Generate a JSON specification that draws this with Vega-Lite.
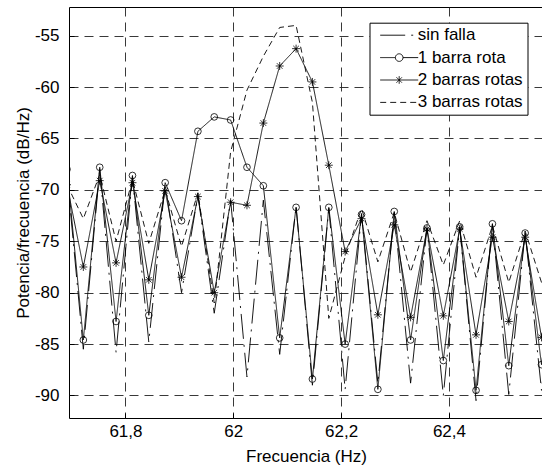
{
  "$schema": "https://vega.github.io/schema/vega-lite/v6.json",
  "width": 474,
  "height": 411,
  "autosize": {"type": "none"},
  "padding": {"left": 69, "top": 7, "right": 0, "bottom": 48},
  "background": "white",
  "config": {
    "view": {"stroke": "black", "strokeWidth": 1},
    "font": "Liberation Sans",
    "axis": {
      "domain": false,
      "ticks": true,
      "tickSize": -5,
      "tickColor": "black",
      "tickWidth": 1,
      "grid": true,
      "gridColor": "#222",
      "gridDash": [9, 6],
      "gridWidth": 0.9,
      "labelFont": "Liberation Sans",
      "labelFontSize": 17,
      "labelColor": "black",
      "titleFont": "Liberation Sans",
      "titleFontSize": 17,
      "titleFontWeight": "normal",
      "titleColor": "black"
    }
  },
  "data": {
    "values": [
      {"serie": "sin falla", "f": 61.6916, "db": -68.5},
      {"serie": "sin falla", "f": 61.7219, "db": -85.5},
      {"serie": "sin falla", "f": 61.7523, "db": -68.0},
      {"serie": "sin falla", "f": 61.7826, "db": -85.8},
      {"serie": "sin falla", "f": 61.8130, "db": -68.7},
      {"serie": "sin falla", "f": 61.8433, "db": -84.8},
      {"serie": "sin falla", "f": 61.8737, "db": -69.4},
      {"serie": "sin falla", "f": 61.9040, "db": -80.0},
      {"serie": "sin falla", "f": 61.9344, "db": -70.5},
      {"serie": "sin falla", "f": 61.9647, "db": -82.0},
      {"serie": "sin falla", "f": 61.9951, "db": -71.0},
      {"serie": "sin falla", "f": 62.0254, "db": -88.2},
      {"serie": "sin falla", "f": 62.0558, "db": -71.0},
      {"serie": "sin falla", "f": 62.0861, "db": -86.0},
      {"serie": "sin falla", "f": 62.1165, "db": -71.6},
      {"serie": "sin falla", "f": 62.1468, "db": -89.0},
      {"serie": "sin falla", "f": 62.1772, "db": -71.8},
      {"serie": "sin falla", "f": 62.2075, "db": -89.4},
      {"serie": "sin falla", "f": 62.2379, "db": -72.3},
      {"serie": "sin falla", "f": 62.2682, "db": -88.8},
      {"serie": "sin falla", "f": 62.2986, "db": -72.2},
      {"serie": "sin falla", "f": 62.3289, "db": -88.8},
      {"serie": "sin falla", "f": 62.3593, "db": -73.7},
      {"serie": "sin falla", "f": 62.3896, "db": -90.0},
      {"serie": "sin falla", "f": 62.4200, "db": -73.6},
      {"serie": "sin falla", "f": 62.4503, "db": -90.5},
      {"serie": "sin falla", "f": 62.4807, "db": -73.3},
      {"serie": "sin falla", "f": 62.5110, "db": -89.9},
      {"serie": "sin falla", "f": 62.5414, "db": -74.1},
      {"serie": "sin falla", "f": 62.5717, "db": -89.5},
      {"serie": "sin falla", "f": 62.6021, "db": -74.5},

      {"serie": "1 barra rota", "f": 61.6916, "db": -68.0},
      {"serie": "1 barra rota", "f": 61.7219, "db": -84.6},
      {"serie": "1 barra rota", "f": 61.7523, "db": -67.8},
      {"serie": "1 barra rota", "f": 61.7826, "db": -82.8},
      {"serie": "1 barra rota", "f": 61.8130, "db": -68.6},
      {"serie": "1 barra rota", "f": 61.8433, "db": -82.2},
      {"serie": "1 barra rota", "f": 61.8737, "db": -69.3},
      {"serie": "1 barra rota", "f": 61.9040, "db": -73.0},
      {"serie": "1 barra rota", "f": 61.9344, "db": -64.3},
      {"serie": "1 barra rota", "f": 61.9647, "db": -62.9},
      {"serie": "1 barra rota", "f": 61.9951, "db": -63.2},
      {"serie": "1 barra rota", "f": 62.0254, "db": -67.8},
      {"serie": "1 barra rota", "f": 62.0558, "db": -69.6},
      {"serie": "1 barra rota", "f": 62.0861, "db": -84.4},
      {"serie": "1 barra rota", "f": 62.1165, "db": -71.7},
      {"serie": "1 barra rota", "f": 62.1468, "db": -88.4},
      {"serie": "1 barra rota", "f": 62.1772, "db": -71.7},
      {"serie": "1 barra rota", "f": 62.2075, "db": -85.0},
      {"serie": "1 barra rota", "f": 62.2379, "db": -72.4},
      {"serie": "1 barra rota", "f": 62.2682, "db": -89.4},
      {"serie": "1 barra rota", "f": 62.2986, "db": -72.1},
      {"serie": "1 barra rota", "f": 62.3289, "db": -84.6},
      {"serie": "1 barra rota", "f": 62.3593, "db": -73.7},
      {"serie": "1 barra rota", "f": 62.3896, "db": -86.6},
      {"serie": "1 barra rota", "f": 62.4200, "db": -73.6},
      {"serie": "1 barra rota", "f": 62.4503, "db": -89.5},
      {"serie": "1 barra rota", "f": 62.4807, "db": -73.3},
      {"serie": "1 barra rota", "f": 62.5110, "db": -87.1},
      {"serie": "1 barra rota", "f": 62.5414, "db": -74.2},
      {"serie": "1 barra rota", "f": 62.5717, "db": -87.0},
      {"serie": "1 barra rota", "f": 62.6021, "db": -74.5},

      {"serie": "2 barras rotas", "f": 61.6916, "db": -69.5},
      {"serie": "2 barras rotas", "f": 61.7219, "db": -77.5},
      {"serie": "2 barras rotas", "f": 61.7523, "db": -69.1},
      {"serie": "2 barras rotas", "f": 61.7826, "db": -77.1},
      {"serie": "2 barras rotas", "f": 61.8130, "db": -69.3},
      {"serie": "2 barras rotas", "f": 61.8433, "db": -78.75},
      {"serie": "2 barras rotas", "f": 61.8737, "db": -70.1},
      {"serie": "2 barras rotas", "f": 61.9040, "db": -78.5},
      {"serie": "2 barras rotas", "f": 61.9344, "db": -70.65},
      {"serie": "2 barras rotas", "f": 61.9647, "db": -80.0},
      {"serie": "2 barras rotas", "f": 61.9951, "db": -71.2},
      {"serie": "2 barras rotas", "f": 62.0254, "db": -71.5},
      {"serie": "2 barras rotas", "f": 62.0558, "db": -63.5},
      {"serie": "2 barras rotas", "f": 62.0861, "db": -57.95},
      {"serie": "2 barras rotas", "f": 62.1165, "db": -56.26},
      {"serie": "2 barras rotas", "f": 62.1468, "db": -59.5},
      {"serie": "2 barras rotas", "f": 62.1772, "db": -67.6},
      {"serie": "2 barras rotas", "f": 62.2075, "db": -76.0},
      {"serie": "2 barras rotas", "f": 62.2379, "db": -72.8},
      {"serie": "2 barras rotas", "f": 62.2682, "db": -82.15},
      {"serie": "2 barras rotas", "f": 62.2986, "db": -73.4},
      {"serie": "2 barras rotas", "f": 62.3289, "db": -82.4},
      {"serie": "2 barras rotas", "f": 62.3593, "db": -73.8},
      {"serie": "2 barras rotas", "f": 62.3896, "db": -82.25},
      {"serie": "2 barras rotas", "f": 62.4200, "db": -73.8},
      {"serie": "2 barras rotas", "f": 62.4503, "db": -84.1},
      {"serie": "2 barras rotas", "f": 62.4807, "db": -74.6},
      {"serie": "2 barras rotas", "f": 62.5110, "db": -82.8},
      {"serie": "2 barras rotas", "f": 62.5414, "db": -74.6},
      {"serie": "2 barras rotas", "f": 62.5717, "db": -84.35},
      {"serie": "2 barras rotas", "f": 62.6021, "db": -75.0},

      {"serie": "3 barras rotas", "f": 61.6916, "db": -69.5},
      {"serie": "3 barras rotas", "f": 61.7219, "db": -72.8},
      {"serie": "3 barras rotas", "f": 61.7523, "db": -68.5},
      {"serie": "3 barras rotas", "f": 61.7826, "db": -75.0},
      {"serie": "3 barras rotas", "f": 61.8130, "db": -69.0},
      {"serie": "3 barras rotas", "f": 61.8433, "db": -75.2},
      {"serie": "3 barras rotas", "f": 61.8737, "db": -70.0},
      {"serie": "3 barras rotas", "f": 61.9040, "db": -75.5},
      {"serie": "3 barras rotas", "f": 61.9344, "db": -70.3},
      {"serie": "3 barras rotas", "f": 61.9647, "db": -81.0},
      {"serie": "3 barras rotas", "f": 61.9951, "db": -66.3},
      {"serie": "3 barras rotas", "f": 62.0254, "db": -60.3},
      {"serie": "3 barras rotas", "f": 62.0558, "db": -57.0},
      {"serie": "3 barras rotas", "f": 62.0861, "db": -54.2},
      {"serie": "3 barras rotas", "f": 62.1165, "db": -54.0},
      {"serie": "3 barras rotas", "f": 62.1468, "db": -61.5},
      {"serie": "3 barras rotas", "f": 62.1772, "db": -82.5},
      {"serie": "3 barras rotas", "f": 62.2075, "db": -76.5},
      {"serie": "3 barras rotas", "f": 62.2379, "db": -71.8},
      {"serie": "3 barras rotas", "f": 62.2682, "db": -77.0},
      {"serie": "3 barras rotas", "f": 62.2986, "db": -72.2},
      {"serie": "3 barras rotas", "f": 62.3289, "db": -78.0},
      {"serie": "3 barras rotas", "f": 62.3593, "db": -73.0},
      {"serie": "3 barras rotas", "f": 62.3896, "db": -77.3},
      {"serie": "3 barras rotas", "f": 62.4200, "db": -73.0},
      {"serie": "3 barras rotas", "f": 62.4503, "db": -78.5},
      {"serie": "3 barras rotas", "f": 62.4807, "db": -73.5},
      {"serie": "3 barras rotas", "f": 62.5110, "db": -79.0},
      {"serie": "3 barras rotas", "f": 62.5414, "db": -74.0},
      {"serie": "3 barras rotas", "f": 62.5717, "db": -79.0},
      {"serie": "3 barras rotas", "f": 62.6021, "db": -74.5}
    ]
  },
  "encoding": {
    "x": {
      "field": "f",
      "type": "quantitative",
      "title": "Frecuencia (Hz)",
      "scale": {"domain": [61.6953, 62.5745], "nice": false, "zero": false},
      "axis": {
        "values": [61.8, 62, 62.2, 62.4],
        "labelExpr": "replace(format(datum.value, '.4~g'), '.', ',')",
        "labelPadding": 10,
        "titlePadding": 9
      }
    },
    "y": {
      "field": "db",
      "type": "quantitative",
      "title": "Potencia/frecuencia (dB/Hz)",
      "scale": {"domain": [-92.19, -52.21], "nice": false, "zero": false},
      "axis": {
        "values": [-90, -85, -80, -75, -70, -65, -60, -55],
        "labelExpr": "'-' + abs(datum.value)",
        "labelPadding": 15,
        "titlePadding": 2
      }
    }
  },
  "layer": [
    {
      "mark": {"type": "line", "color": "black", "strokeWidth": 0.9, "clip": true},
      "encoding": {
        "detail": {"field": "serie", "type": "nominal"},
        "strokeDash": {
          "field": "serie",
          "type": "nominal",
          "scale": {
            "domain": ["sin falla", "1 barra rota", "2 barras rotas", "3 barras rotas"],
            "range": [[25, 6, 2, 6], [1, 0], [1, 0], [6, 4]]
          },
          "legend": {
            "title": null,
            "orient": "none",
            "legendX": 300.5,
            "legendY": 15.7,
            "padding": 4,
            "symbolOffset": 17.2,
            "fillColor": "white",
            "strokeColor": "black",
            "cornerRadius": 0,
            "labelFont": "Liberation Sans",
            "labelFontSize": 17,
            "labelColor": "black",
            "labelOffset": 10,
            "rowPadding": 4.4,
            "symbolSize": 100,
            "symbolStrokeWidth": 0.9,
            "symbolStrokeColor": "black",
            "labelExpr": "datum.label + '\u00a0\u00a0'",
            "encode": {
              "symbols": {
                "update": {
                  "shape": {"signal": "datum.value === '1 barra rota' ? 'M-3.8,0L-0.76,0M0.76,0L3.8,0M-0.76,0A0.76,0.76 0 1 1 0.76,0A0.76,0.76 0 1 1 -0.76,0' : datum.value === '2 barras rotas' ? 'M-3.8,0L3.8,0M0,-0.76L0,0.76M-0.54,-0.54L0.54,0.54M-0.54,0.54L0.54,-0.54' : 'M-3.8,0L3.8,0'"},
                  "fill": {"value": "transparent"},
                  "stroke": {"value": "black"}
                }
              }
            }
          }
        }
      }
    },
    {
      "transform": [{"filter": {"field": "serie", "equal": "1 barra rota"}}],
      "mark": {"type": "point", "shape": "circle", "filled": false, "size": 45, "color": "black", "strokeWidth": 0.8, "clip": true, "opacity": 1}
    },
    {
      "transform": [{"filter": {"field": "serie", "equal": "2 barras rotas"}}],
      "mark": {"type": "point", "shape": "M-1,0L1,0M0,-1L0,1M-0.7,-0.7L0.7,0.7M-0.7,0.7L0.7,-0.7", "filled": false, "size": 64, "color": "black", "strokeWidth": 0.8, "clip": true, "opacity": 1}
    }
  ]
}
